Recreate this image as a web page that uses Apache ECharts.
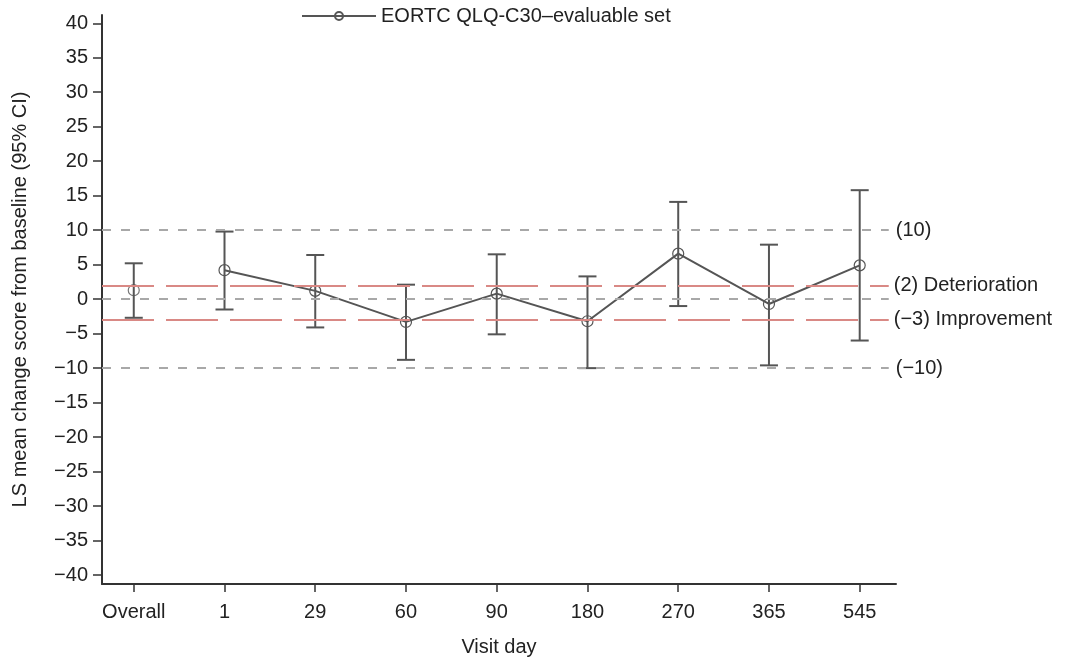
<!DOCTYPE html>
<html>
<head>
<meta charset="utf-8">
<script src="https://cdn.jsdelivr.net/npm/echarts@6/dist/echarts.min.js"></script>
<style>
  html, body { margin: 0; padding: 0; background: #fff; }
  #chart { width: 1069px; height: 660px; }
</style>
</head>
<body>
<div id="chart"></div>
<script>
// visit days (x positions are the category index)
const visitDays = ['Overall', '1', '29', '60', '90', '180', '270', '365', '545']
// LS mean change from baseline and 95% CI
const lsMean = [1.3, 4.2, 1.2, -3.3, 0.8, -3.2, 6.6, -0.7, 4.9]
const ciLow = [-2.7, -1.5, -4.1, -8.8, -5.1, -10.0, -1.0, -9.6, -6.0]
const ciHigh = [5.2, 9.8, 6.4, 2.1, 6.5, 3.3, 14.1, 7.9, 15.8]
// y axis ticks
const yTicks = [-40, -35, -30, -25, -20, -15, -10, -5, 0, 5, 10, 15, 20, 25, 30, 35, 40]
// reference lines
const greyRefs = [10, 0, -10]
const greyRefLabels = ['(10)', '', '(\u221210)']
const redRefs = [2, -3]
const redRefLabels = ['(2) Deterioration', '(\u22123) Improvement']

const seriesName = 'EORTC QLQ-C30\u2013evaluable set'
const FONT = 'Liberation Sans, Arial, sans-serif'
const FS = 20
const X_MIN = -0.35
const X_MAX = 8.4
const LINE_END = 8.32

const chart = echarts.init(document.getElementById('chart'))

// 第0个点(Overall)不连线
const lineData = lsMean.map((v, i) => [i, v]).slice(1)
const overallData = [[0, lsMean[0]]]
const errData = visitDays.map((d, i) => [i, ciLow[i], ciHigh[i]])

const refLine = (vals, labels) => vals.map((v, i) => [
  { coord: [X_MIN, v] },
  { coord: [LINE_END, v], label: { formatter: labels[i] } }
])

const pointStyle = { color: 'transparent', borderColor: '#555', borderWidth: 1.2 }

chart.setOption({
  animation: false,
  textStyle: { fontFamily: FONT },
  grid: { left: 102, right: 173, top: 15, bottom: 76, outerBoundsMode: 'none' },
  legend: {
    data: [seriesName],
    top: 1,
    left: 296,
    itemWidth: 74,
    itemHeight: 10,
    textStyle: { fontSize: FS, color: '#222', fontFamily: FONT }
  },
  xAxis: {
    type: 'value',
    min: X_MIN,
    max: X_MAX,
    name: 'Visit day',
    nameLocation: 'middle',
    nameGap: 53,
    nameTextStyle: { fontSize: FS, color: '#222' },
    splitLine: { show: false },
    axisLine: { onZero: false, lineStyle: { color: '#333', width: 2 } },
    axisTick: {
      customValues: visitDays.map((d, i) => i),
      length: 8,
      lineStyle: { color: '#333', width: 1.5 }
    },
    axisLabel: {
      customValues: visitDays.map((d, i) => i),
      formatter: (v) => visitDays[Math.round(v)],
      fontSize: FS,
      color: '#222',
      margin: 18
    }
  },
  yAxis: {
    type: 'value',
    min: -41.3,
    max: 41.2,
    name: 'LS mean change score from baseline (95% CI)',
    nameLocation: 'middle',
    nameGap: 72,
    nameTextStyle: { fontSize: FS, color: '#222' },
    splitLine: { show: false },
    axisLine: { show: true, onZero: false, lineStyle: { color: '#333', width: 2 } },
    axisTick: {
      customValues: yTicks,
      length: 9,
      lineStyle: { color: '#333', width: 1.5 }
    },
    axisLabel: {
      customValues: yTicks,
      formatter: (v) => String(v).replace('-', '\u2212'),
      fontSize: FS,
      color: '#222',
      margin: 14
    }
  },
  series: [
    {
      // 参考线
      type: 'line',
      data: [],
      z: 1,
      silent: true,
      markLine: {
        symbol: 'none',
        silent: true,
        label: { position: 'end', distance: 7, fontSize: FS, color: '#222', fontFamily: FONT },
        lineStyle: { color: '#a8a8a8', type: [9, 10], width: 2 },
        data: refLine(greyRefs, greyRefLabels)
      }
    },
    {
      type: 'line',
      data: [],
      z: 1,
      silent: true,
      markLine: {
        symbol: 'none',
        silent: true,
        label: { position: 'end', distance: 5, fontSize: FS, color: '#222', fontFamily: FONT },
        lineStyle: { color: '#d98985', type: [52, 12], width: 2 },
        data: refLine(redRefs, redRefLabels)
      }
    },
    {
      // 误差线
      type: 'custom',
      z: 3,
      data: errData,
      renderItem: (params, api) => {
        const x = api.value(0)
        const lo = api.coord([x, api.value(1)])
        const hi = api.coord([x, api.value(2)])
        const cap = 9
        const style = { stroke: '#555', lineWidth: 2 }
        return {
          type: 'group',
          children: [
            { type: 'line', shape: { x1: lo[0], y1: lo[1], x2: hi[0], y2: hi[1] }, style },
            { type: 'line', shape: { x1: lo[0] - cap, y1: lo[1], x2: lo[0] + cap, y2: lo[1] }, style },
            { type: 'line', shape: { x1: hi[0] - cap, y1: hi[1], x2: hi[0] + cap, y2: hi[1] }, style }
          ]
        }
      }
    },
    {
      name: seriesName,
      type: 'line',
      z: 4,
      data: lineData,
      symbol: 'circle',
      symbolSize: 11,
      color: '#555',
      lineStyle: { color: '#555', width: 2 },
      itemStyle: pointStyle
    },
    {
      name: 'overall',
      type: 'scatter',
      z: 4,
      data: overallData,
      symbol: 'circle',
      symbolSize: 11,
      itemStyle: pointStyle
    }
  ]
})
</script>
</body>
</html>
